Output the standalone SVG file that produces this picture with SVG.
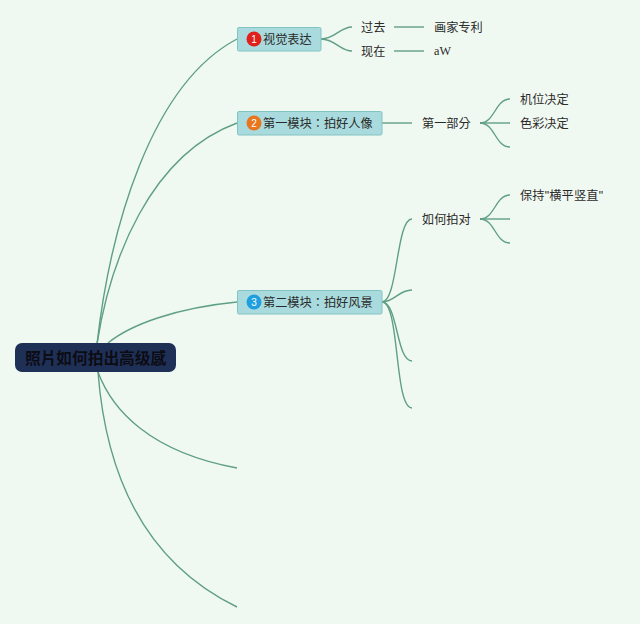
<svg xmlns="http://www.w3.org/2000/svg" width="640" height="624" viewBox="0 0 640 624">
<style>
text{font-family:"Liberation Sans","Noto Sans CJK TC",sans-serif;font-size:12.2px;fill:#2a2a2a;dominant-baseline:central}
.c path{fill:none;stroke:#5f9f85;stroke-width:1.4}
.n rect{fill:#a9dadd;stroke:#82c4c2;stroke-width:1}
.b{fill:#fff;font-size:10px;text-anchor:middle}
</style>
<rect width="640" height="624" fill="#f0f9f1"/>
<g class="c" id="connectors">
<path d="M97 344C110 230 150 85 237 39"/>
<path d="M97 344C110 260 150 155 237 123"/>
<path d="M108 343C130 325 175 308 237 302"/>
<path d="M98 372C112 410 150 452 237 468"/>
<path d="M98 372C104 450 130 555 237 607"/>
<path d="M321 39C335 39 340 27 352 27"/>
<path d="M321 39C335 39 340 51 352 51"/>
<path d="M394 27H424"/>
<path d="M394 51H424"/>
<path d="M382 123H412"/>
<path d="M480 123C495 123 495 99 510 99"/>
<path d="M480 123H510"/>
<path d="M480 123C495 123 495 147 510 147"/>
<path d="M480 219C495 219 495 195 510 195"/>
<path d="M480 219H510"/>
<path d="M480 219C495 219 495 243 510 243"/>
<path d="M382 302C398 302 396 219 412 219"/>
<path d="M382 302C395 302 398 290 412 290"/>
<path d="M382 302C398 302 396 361 412 361"/>
<path d="M382 302C400 302 394 408 412 408"/>
</g>
<g id="root"><rect x="15" y="343" width="161" height="29" rx="7" fill="#1f3057"/><text x="25" y="358.500" style="font-size:15.700px;font-weight:bold;fill:#0c0c14">照片如何拍出高级感</text></g>
<g id="n1" class="n"><rect x="237.500" y="27.500" width="83.500" height="23.500" rx="1.500"/><circle cx="254" cy="39" r="7.500" fill="#e0201b"/><text class="b" x="254" y="39">1</text><text x="263" y="39.500">视觉表达</text></g>
<g id="n2" class="n"><rect x="237.500" y="111.500" width="144.500" height="23.500" rx="1.500"/><circle cx="254" cy="123" r="7.500" fill="#e8761e"/><text class="b" x="254" y="123">2</text><text x="263" y="123.500">第一模块：拍好人像</text></g>
<g id="n3" class="n"><rect x="237.500" y="290.500" width="144.500" height="23.500" rx="1.500"/><circle cx="254" cy="302" r="7.500" fill="#1f9fe0"/><text class="b" x="254" y="302">3</text><text x="263" y="302.500">第二模块：拍好风景</text></g>
<g id="t1"><text x="361" y="28">过去</text></g>
<g id="t2"><text x="361" y="51.500">现在</text></g>
<g id="t3"><text x="434" y="28">画家专利</text></g>
<g id="t4"><text x="434" y="50.500" style="font-family:'Liberation Serif',serif">aW</text></g>
<g id="t5"><text x="422" y="123.500">第一部分</text></g>
<g id="t6"><text x="520" y="100">机位决定</text></g>
<g id="t7"><text x="520" y="123.500">色彩决定</text></g>
<g id="t8"><text x="422" y="219.500">如何拍对</text></g>
<g id="t9"><text x="520" y="196" textLength="83" lengthAdjust="spacing">保持"横平竖直"</text></g>
</svg>
